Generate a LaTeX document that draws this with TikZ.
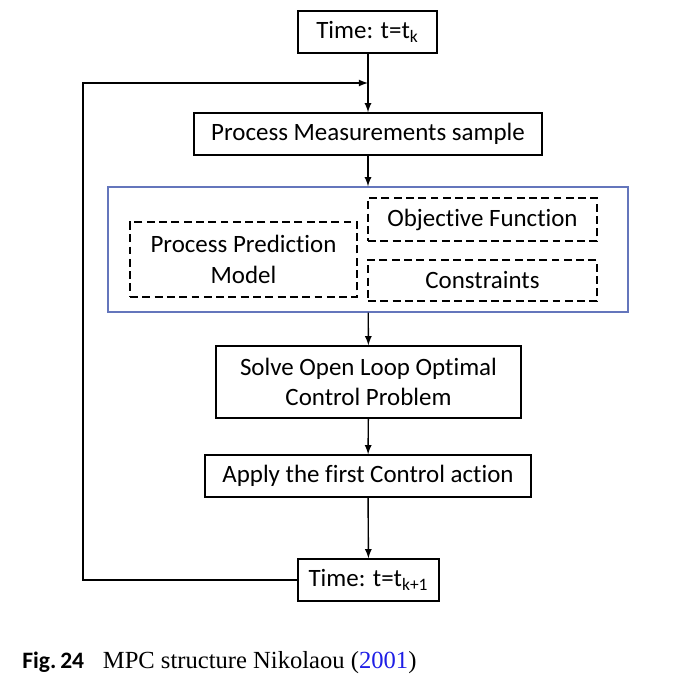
\documentclass[tikz,border=0pt]{standalone}
\usepackage{fontspec}
\setmainfont[Ligatures={NoCommon,NoContextual}]{Carlito}
\newfontfamily\capserif{Liberation Serif}
\usepackage{tikz}
\usetikzlibrary{positioning,arrows}
\definecolor{frameblue}{RGB}{100,118,188}
\definecolor{citeblue}{RGB}{30,30,230}
\tikzstyle{tprocess} = [rectangle, minimum height=0.84cm, text centered, draw=black, line width=0.8pt, inner sep=0pt]
\tikzstyle{dprocess} = [rectangle, text centered, draw=black, dash pattern=on 4.5pt off 2.5pt, line width=0.8pt, inner sep=0pt, align=center]
\tikzstyle{arrow} = [line width=0.8pt,->,>=latex]

\begin{document}
\begin{tikzpicture}[x=0.02cm, y=-0.02cm, font=\fontsize{14.2}{17.5}\selectfont]
\useasboundingbox (0,0) rectangle (675,694);
\node (tk) [tprocess, minimum width=2.78cm] at (367.5,32) {Time: t=t\textsubscript{k}};
\node (meas) [tprocess, minimum width=6.96cm] at (368,134) {Process Measurements sample};
\node (optim) [rectangle, draw=frameblue, line width=0.8pt, minimum width=10.4cm, minimum height=2.5cm] at (368,249.5) {};
\node (model) [dprocess, minimum width=4.54cm, minimum height=1.5cm] at (243.5,259.5) {Process Prediction\\Model};
\node (objfun) [dprocess, minimum width=4.58cm, minimum height=0.86cm] at (482.5,219.5) {Objective Function};
\node (cons) [dprocess, minimum width=4.58cm, minimum height=0.82cm] at (482.5,280.5) {Constraints};
\node (solve) [tprocess, minimum width=6.1cm, minimum height=1.44cm, align=center] at (368.5,382) {Solve Open Loop Optimal\\Control Problem};
\node (apply) [tprocess, minimum width=6.52cm] at (368,476) {Apply the first Control action};
\node (tk1) [tprocess, minimum width=2.82cm] at (368.5,580) {Time: t=t\textsubscript{k+1}};
\coordinate (back) at (83,83);
\coordinate (join) at (368,83);
\draw [arrow] (tk.south -| meas.north) -- (meas);
\draw [arrow] (meas) -- (optim);
\draw [arrow] (optim) -- (solve);
\draw [arrow] (solve) -- (apply);
\draw [arrow] (apply) -- (tk1);
\draw [arrow] (tk1.west) -| (back) -- (join);
\node (caption) [anchor=west, inner sep=0pt] at (22,663) {{\fontsize{13.4}{16}\selectfont\textbf{Fig.\,24}}\hspace{0.75em}{\capserif\fontsize{14}{17}\selectfont MPC structure Nikolaou (\textcolor{citeblue}{2001})}};
\end{tikzpicture}
\end{document}
